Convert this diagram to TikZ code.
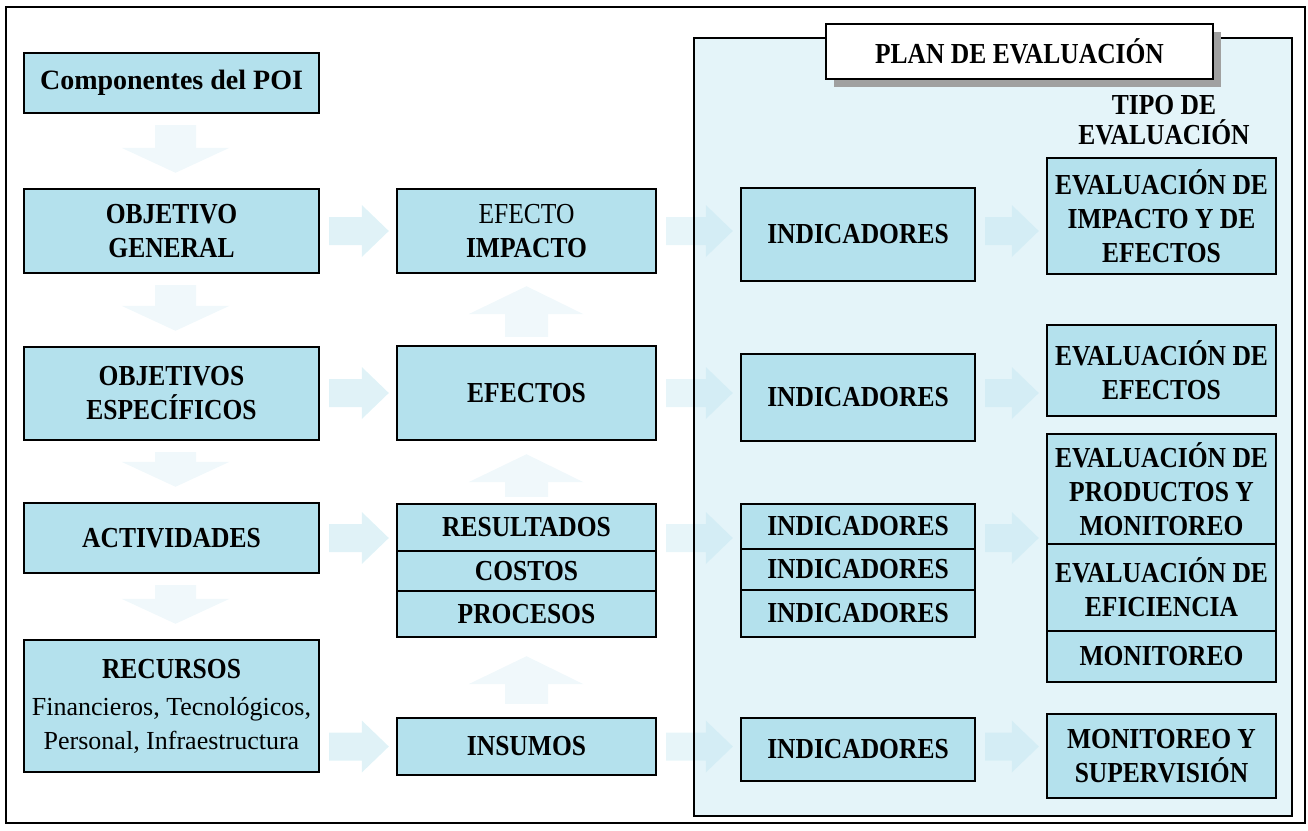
\documentclass[tikz,border=0pt]{standalone}
\usepackage{fontspec}
\setmainfont{Liberation Serif}
\newfontfamily\lblfont{Liberation Serif}[FakeStretch=0.88]
\usetikzlibrary{calc,shadows}

\definecolor{boxblue}{RGB}{180,225,237}
\definecolor{planblue}{RGB}{228,244,249}
\definecolor{faintarrow}{RGB}{240,248,251}
\definecolor{shadowgray}{RGB}{160,160,160}

% horizontal block arrow from node #1 to node #2, at the height of #3
\newcommand\hblock[4]{%
  \fill[#4] let \p1=(#1.east), \p2=(#2.west), \p3=(#3.center) in
    (\x1+9pt,\y3+14pt) -- (\x2-34pt,\y3+14pt) -- (\x2-34pt,\y3+26pt) -- (\x2-7pt,\y3)
    -- (\x2-34pt,\y3-26pt) -- (\x2-34pt,\y3-14pt) -- (\x1+9pt,\y3-14pt) -- cycle;}
% downward block arrow from node #1 to node #2
\newcommand\dnblock[2]{%
  \fill[faintarrow] let \p1=(#1.south), \p2=(#2.north) in
    (\x1-16.5pt,\y1-11pt) -- (\x1-16.5pt,\y2+40pt) -- (\x1-50pt,\y2+40pt) -- (\x1+4pt,\y2+15pt)
    -- (\x1+58pt,\y2+40pt) -- (\x1+24.5pt,\y2+40pt) -- (\x1+24.5pt,\y1-11pt) -- cycle;}
% upward block arrow from node #1 to node #2, gaps #3 (base) and #4 (tip)
\newcommand\upblock[4]{%
  \fill[faintarrow] let \p1=(#1.north), \p2=(#2.south) in
    (\x1-21.5pt,\y1+#3pt) -- (\x1-21.5pt,\y2-#4pt-28pt) -- (\x1-58pt,\y2-#4pt-28pt) -- (\x1,\y2-#4pt)
    -- (\x1+57pt,\y2-#4pt-28pt) -- (\x1+21.5pt,\y2-#4pt-28pt) -- (\x1+21.5pt,\y1+#3pt) -- cycle;}

\tikzset{
  cell/.style={draw=black, line width=2.4pt, fill=boxblue, align=center, inner sep=0pt,
    text=black, font=\lblfont\bfseries\fontsize{29}{34}\selectfont},
  leftcol/.style={cell, minimum width=295pt},
  midcol/.style={cell, minimum width=259pt},
  indcol/.style={cell, minimum width=234pt},
  typecol/.style={cell, minimum width=229pt},
  outarrow/.style={fill=boxblue, fill opacity=0.42},
  inarrow/.style={fill=boxblue, fill opacity=0.32},
}

\begin{document}
\begin{tikzpicture}[x=1pt,y=-1pt]
\useasboundingbox (0,0) rectangle (1308,830);

% outer frame and evaluation plan panel
\draw[line width=2pt] (6,7) rectangle (1305,823);
\fill[planblue] (694,38) rectangle (1292,816);

% left column
\node[leftcol, minimum height=60pt, font=\rmfamily\bfseries\fontsize{28}{34}\selectfont]
  (comp) at (171.5,83) {Componentes del POI};
\node[leftcol, minimum height=84pt] (og) at (171.5,231) {OBJETIVO\\GENERAL};
\node[leftcol, minimum height=93pt] (oe) at (171.5,393.5) {OBJETIVOS\\ESPECÍFICOS};
\node[leftcol, minimum height=70pt] (act) at (171.5,538) {ACTIVIDADES};
\node[leftcol, minimum height=132pt] (rec) at (171.5,706)
  {RECURSOS\\[3pt]{\rmfamily\mdseries\fontsize{26}{34}\selectfont Financieros, Tecnológicos,}\\
   {\rmfamily\mdseries\fontsize{26}{34}\selectfont Personal, Infraestructura}};

% middle column
\node[midcol, minimum height=84pt] (ei) at (526.5,231) {{\mdseries EFECTO}\\IMPACTO};
\node[midcol, minimum height=94pt] (ef) at (526.5,393) {EFECTOS};
\node[midcol, minimum height=47pt] (res) at (526.5,527.5) {RESULTADOS};
\node[midcol, minimum height=40pt] (cos) at (526.5,571) {COSTOS};
\node[midcol, minimum height=46pt] (pro) at (526.5,614) {PROCESOS};
\node[midcol, minimum height=57pt] (ins) at (526.5,746.5) {INSUMOS};

% arrows between the columns
\dnblock{comp}{og}
\dnblock{og}{oe}
\dnblock{oe}{act}
\dnblock{act}{rec}
\upblock{ef}{ei}{8}{12}
\upblock{res}{ef}{6}{13}
\upblock{ins}{pro}{13}{18}

\hblock{og}{ei}{og}{outarrow}
\hblock{oe}{ef}{ef}{outarrow}
\hblock{act}{res}{act}{outarrow}
\hblock{rec}{ins}{ins}{outarrow}

% indicator column
\node[indcol, minimum height=93pt] (ind1) at (858,234.5) {INDICADORES};
\node[indcol, minimum height=87pt] (ind2) at (858,397.5) {INDICADORES};
\node[indcol, minimum height=45pt] (ind3a) at (858,526.5) {INDICADORES};
\node[indcol, minimum height=41pt] (ind3b) at (858,569.5) {INDICADORES};
\node[indcol, minimum height=47pt] (ind3c) at (858,613.5) {INDICADORES};
\node[indcol, minimum height=63pt] (ind4) at (858,749.5) {INDICADORES};

% type of evaluation column
\node[typecol, minimum height=116pt] (t1) at (1161.5,216) {EVALUACIÓN DE\\IMPACTO Y DE\\EFECTOS};
\node[typecol, minimum height=91pt] (t2) at (1161.5,370.5) {EVALUACIÓN DE\\EFECTOS};
\node[typecol, minimum height=110pt] (t3a) at (1161.5,489) {EVALUACIÓN DE\\PRODUCTOS Y\\MONITOREO};
\node[typecol, minimum height=87pt] (t3b) at (1161.5,587.5) {EVALUACIÓN DE\\EFICIENCIA};
\node[typecol, minimum height=51pt] (t3c) at (1161.5,656.5) {MONITOREO};
\node[typecol, minimum height=84pt] (t4) at (1161.5,756) {MONITOREO Y\\SUPERVISIÓN};

\hblock{ei}{ind1}{og}{inarrow}
\hblock{ef}{ind2}{ef}{inarrow}
\hblock{res}{ind3a}{act}{inarrow}
\hblock{ins}{ind4}{ins}{inarrow}
\hblock{ind1}{t1}{og}{inarrow}
\hblock{ind2}{t2}{ef}{inarrow}
\hblock{ind3a}{t3a}{act}{inarrow}
\hblock{ind4}{t4}{ins}{inarrow}

% panel border, title and column heading
\draw[line width=2.4pt] (694,38) rectangle (1292,816);
\node[draw=black, line width=2.4pt, fill=white, minimum width=387pt, minimum height=55pt, inner sep=0pt,
  font=\lblfont\bfseries\fontsize{29}{34}\selectfont,
  drop shadow={shadow xshift=8pt, shadow yshift=-8pt, fill=shadowgray, opacity=1}]
  (plantitle) at (1019.5,51.5) {PLAN DE EVALUACIÓN};
\node[align=center, inner sep=0pt, font=\lblfont\bfseries\fontsize{29}{30}\selectfont]
  (tipo) at (1164,120) {TIPO DE\\EVALUACIÓN};
\end{tikzpicture}
\end{document}
